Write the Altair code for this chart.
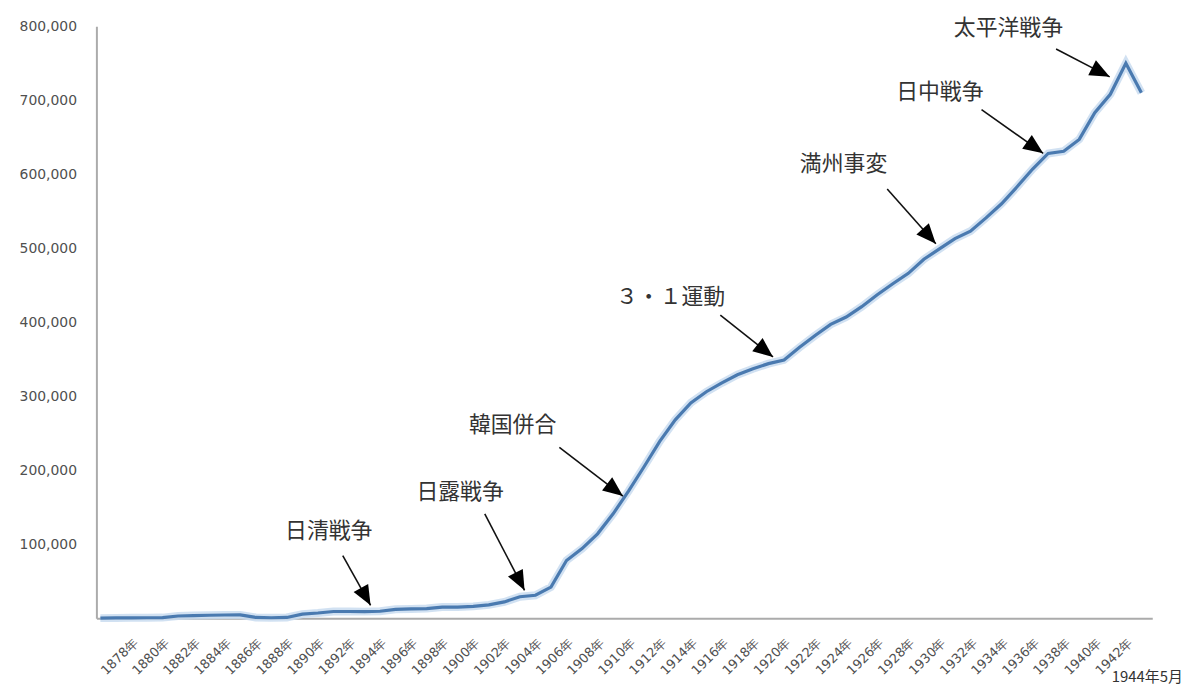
import json
import math
import altair as alt
import pandas as pd

# ---- data ----
years = list(range(1876, 1943))
categories = [f"{y}年" for y in years] + ["1944年5月"]

values = [
    # 1876-1885
    100, 300, 500, 600, 800, 3000, 3500, 4000, 4300, 4500,
    # 1886-1895
    1000, 600, 1000, 5500, 7000, 9000, 9000, 8900, 9400, 12000,
    # 1896-1905
    12500, 13000, 15000, 15000, 16000, 18000, 22000, 29000, 31000, 42000,
    # 1906-1915
    78000, 94000, 114000, 141000, 172000, 205000, 239000, 268000, 291000, 306000,
    # 1916-1925
    318000, 329000, 337000, 344000, 349000, 366000, 382000, 397000, 407000, 421000,
    # 1926-1935
    437000, 452000, 466000, 485000, 499000, 513000, 523000, 541000, 560000, 583000,
    # 1936-1942
    607000, 628000, 631000, 647000, 683000, 708000, 750000,
    # 1944年5月
    710000,
]

ann_text = ["日清戦争", "日露戦争", "韓国併合", "３・１運動", "満州事変", "日中戦争", "太平洋戦争"]
ann_text_x = [14.7, 23.15, 26.53, 36.7, 47.83, 54.03, 58.44]
ann_text_y = [118000, 170500, 260400, 433600, 613400, 711400, 797300]
arrow_x0 = [15.6, 24.74, 29.54, 39.9, 50.64, 56.71, 61.51]
arrow_y0 = [84600, 140900, 230900, 409400, 579900, 687200, 769100]
arrow_x1 = [17.39, 27.3, 33.63, 43.29, 53.77, 60.68, 64.96]
arrow_y1 = [17400, 37600, 165100, 353000, 506000, 628200, 731500]

# ---- layout ----
W, H = 1063, 596
X_DOMAIN = [-0.256, 67.70]
Y_DOMAIN = [0, 800000]
px_x = W / (X_DOMAIN[1] - X_DOMAIN[0])
px_y = H / (Y_DOMAIN[1] - Y_DOMAIN[0])

df = pd.DataFrame({"idx": list(range(len(categories))), "label": categories, "value": values})

angles = []
for a, b, c, d in zip(arrow_x0, arrow_y0, arrow_x1, arrow_y1):
    dx = (c - a) * px_x
    dy = (b - d) * px_y
    angles.append(math.degrees(math.atan2(dy, dx)) % 360)

ann = pd.DataFrame({
    "text": ann_text, "tx": ann_text_x, "ty": ann_text_y,
    "x0": arrow_x0, "y0": arrow_y0, "x1": arrow_x1, "y1": arrow_y1,
    "angle": angles,
})

xscale = alt.Scale(domain=X_DOMAIN, nice=False, zero=False)
yscale = alt.Scale(domain=Y_DOMAIN, nice=False)

tick_vals = list(range(2, len(categories) - 1, 2))
label_expr = json.dumps(categories, ensure_ascii=False) + "[datum.value]"

x_axis = alt.Axis(
    values=tick_vals, labelExpr=label_expr, labelAngle=-45, labelAlign="right",
    labelBaseline="middle", labelPadding=22, labelOffset=4, ticks=False, grid=False,
    domainColor="#ababab", domainWidth=2, labelColor="#505050", labelFontSize=13,
    labelFont="DejaVu Sans", title=None, labelOverlap=False, labelFlush=False,
)
y_axis = alt.Axis(
    values=list(range(0, 800001, 100000)),
    labelExpr="datum.value == 0 ? '' : format(datum.value, ',')",
    ticks=False, grid=False, domainColor="#ababab", domainWidth=2,
    labelColor="#505050", labelFontSize=14, labelFont="DejaVu Sans",
    labelPadding=20, title=None,
)

X = lambda f: alt.X(f, scale=xscale, axis=x_axis)
Y = lambda f: alt.Y(f, scale=yscale, axis=y_axis)

base = alt.Chart(df)

glow = base.mark_line(color="#c9dcf0", strokeWidth=8, opacity=0.85).encode(
    x=X("idx:Q"), y=Y("value:Q"),
)
line = base.mark_line(color="#4a7ab0", strokeWidth=3.2).encode(
    x=X("idx:Q"), y=Y("value:Q"),
)

annb = alt.Chart(ann)
shafts = annb.mark_rule(color="#111111", strokeWidth=1.6).encode(
    x=X("x0:Q"), y=Y("y0:Q"), x2="x1:Q", y2="y1:Q",
)
heads = annb.mark_point(
    shape="M0,0L-1,-0.42L-1,0.42Z", filled=True, color="#000000", opacity=1, size=1600,
    strokeWidth=0,
).encode(
    x=X("x1:Q"), y=Y("y1:Q"),
    angle=alt.Angle("angle:Q", scale=None),
)
texts = annb.mark_text(
    font="Noto Sans CJK JP", fontSize=22, color="#333333", align="center", baseline="middle",
).encode(
    x=X("tx:Q"), y=Y("ty:Q"), text="text:N",
)

last = df.tail(1)
last_label = alt.Chart(last).mark_text(
    font="Noto Sans CJK JP", fontSize=15, color="#333333", align="center",
    baseline="middle", dx=6,
).encode(
    x=X("idx:Q"),
    y=alt.value(H + 59),
    text="label:N",
)

chart = alt.layer(glow, line, shafts, heads, texts, last_label).properties(
    width=W, height=H,
    autosize=alt.AutoSizeParams(type="none"),
    padding={"left": 89, "top": 16, "right": 40, "bottom": 71},
    background="white",
).configure_view(stroke=None)

chart.save("out.html", embed_options={"renderer": "svg", "actions": False})
